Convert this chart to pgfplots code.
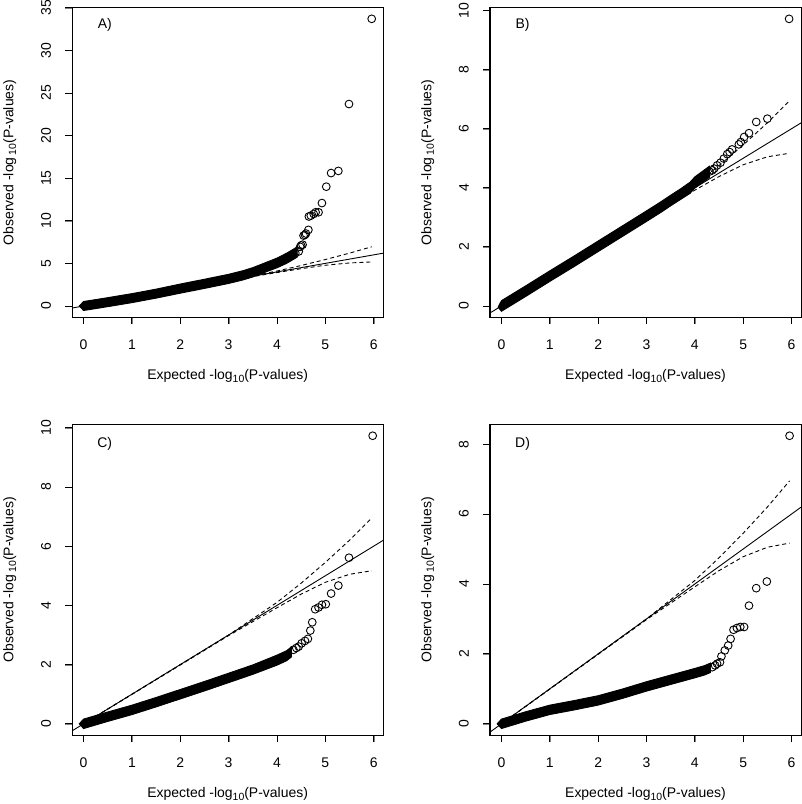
\documentclass[border=0pt]{standalone}
\usepackage{fontspec}
\setmainfont{Liberation Sans}
\usepackage{pgfplots}
\pgfplotsset{compat=1.18}
\newcommand{\lsub}[1]{\raisebox{-0.35ex}{\fontsize{10.5}{11}\selectfont #1}}
\pgfplotsset{
  qq/.style={
    scale only axis, width=312pt, height=311pt,
    xmin=-0.2385, xmax=6.198, xtick={0,...,6},
    major tick length=7pt, tick align=outside,
    xtick pos=bottom, ytick pos=left,
    /pgf/number format/assume math mode=true,
    tick label style={font=\fontsize{14}{16}\selectfont},
    xticklabel style={anchor=north, inner sep=0pt, yshift=-15pt},
    yticklabel style={rotate=90, anchor=south, inner sep=0pt, yshift=14pt},
    label style={font=\fontsize{14}{16}\selectfont},
    xlabel={Expected -log\lsub{10}(P-values)},
    ylabel={Observed -log\,\lsub{10}(P-values)},
    xlabel style={at={(axis description cs:0.5,-0.189)}, anchor=center},
    ylabel style={at={(axis description cs:-0.2,0.5)}, anchor=center},
  },
  qqband/.style={fill=black, draw=black, line width=0.9pt},
  qqpts/.style={only marks, mark=o, mark size=3.9pt, mark options={line width=0.9pt, black}},
  qqdiag/.style={line width=0.9pt, black},
  qqci/.style={line width=0.9pt, black, dash pattern=on 4pt off 3pt},
}
\begin{document}
\begin{tikzpicture}
% ---------------- A ----------------
\begin{axis}[qq, name=A, at={(69pt,486pt)}, anchor=south west,
  ymin=-1.35, ymax=35.05, ytick={0,5,...,35}]
\addplot[qqband] coordinates {(-0.09,0)(0,0.53)(0.25,0.75)(0.5,0.98)(1,1.45)(1.5,1.98)(2,2.58)(2.5,3.14)(3,3.72)(3.3,4.15)(3.5,4.5)(3.75,5.06)(4,5.62)(4.2,6.2)(4.35,6.7)(4.42,6.96)(4.42,5.74)(4.35,5.5)(4.2,5.0)(4,4.48)(3.75,3.95)(3.5,3.4)(3.3,3.06)(3,2.64)(2.5,2.06)(2,1.5)(1.5,0.92)(1,0.39)(0.5,-0.08)(0.25,-0.31)(0,-0.53)} -- cycle;
\addplot[qqpts] coordinates {(4.2,5.6)(4.3,5.9)(4.38,6.2)(4.45,6.4)(4.48,6.94)(4.50,7.1)(4.53,7.2)(4.55,8.26)(4.58,8.35)(4.60,8.5)(4.65,8.93)(4.66,10.5)(4.70,10.6)(4.76,10.8)(4.80,11.0)(4.86,11.0)(4.93,12.08)(5.02,14.0)(5.12,15.6)(5.27,15.85)(5.49,23.7)(5.96,33.7)};
\addplot[qqdiag] coordinates {(-0.2385,-0.2385)(6.198,6.198)};
\addplot[qqci] coordinates {(0,0)(3,3.0)(3.5,3.55)(4,4.1)(4.5,4.75)(5,5.45)(5.5,6.2)(5.96,6.95)};
\addplot[qqci] coordinates {(0,0)(3,2.98)(3.5,3.45)(4,3.92)(4.5,4.38)(5,4.78)(5.5,5.05)(5.96,5.17)};
\node[font=\fontsize{14}{16}\selectfont] at (axis description cs:0.105,0.942) {A)};
\pgfplotsinvokeforeach{0,...,6}{\coordinate (A-x#1) at (axis cs:#1,-1.35);}
\pgfplotsinvokeforeach{0,5,...,35}{\coordinate (A-y#1) at (axis cs:-0.2385,#1);}
\end{axis}
% ---------------- B ----------------
\begin{axis}[qq, name=B, at={(488pt,486pt)}, anchor=south west,
  ymin=-0.39, ymax=10.11, ytick={0,2,...,10}]
\addplot[qqband] coordinates {(-0.07,-0.04)(0,0.18)(0.5,0.68)(1,1.19)(1.5,1.69)(2,2.2)(2.5,2.71)(3,3.22)(3.3,3.53)(3.5,3.75)(3.7,3.96)(3.9,4.19)(4.0,4.37)(4.1,4.49)(4.25,4.67)(4.3,4.73)(4.3,4.35)(4.25,4.29)(4.1,4.11)(4.0,3.99)(3.9,3.81)(3.7,3.6)(3.5,3.39)(3.3,3.17)(3,2.86)(2.5,2.35)(2,1.84)(1.5,1.33)(1,0.83)(0.5,0.32)(0,-0.18)} -- cycle;
\addplot[qqpts] coordinates {(4.3,4.55)(4.36,4.59)(4.40,4.65)(4.46,4.76)(4.53,4.85)(4.60,4.99)(4.67,5.14)(4.72,5.21)(4.77,5.30)(4.91,5.47)(4.95,5.55)(5.02,5.72)(5.12,5.85)(5.27,6.23)(5.50,6.34)(5.95,9.72)};
\addplot[qqdiag] coordinates {(-0.2385,-0.2385)(6.198,6.198)};
\addplot[qqci] coordinates {(0,0)(3,3.0)(3.5,3.55)(4,4.1)(4.5,4.75)(5,5.45)(5.5,6.2)(5.96,6.95)};
\addplot[qqci] coordinates {(0,0)(3,2.98)(3.5,3.45)(4,3.92)(4.5,4.38)(5,4.78)(5.5,5.05)(5.96,5.17)};
\node[font=\fontsize{14}{16}\selectfont] at (axis description cs:0.105,0.942) {B)};
\pgfplotsinvokeforeach{0,...,6}{\coordinate (B-x#1) at (axis cs:#1,-0.39);}
\pgfplotsinvokeforeach{0,2,...,10}{\coordinate (B-y#1) at (axis cs:-0.2385,#1);}
\end{axis}
% ---------------- C ----------------
\begin{axis}[qq, name=C, at={(69pt,67pt)}, anchor=south west, height=312pt,
  ymin=-0.39, ymax=10.12, ytick={0,2,...,10}]
\addplot[qqband] coordinates {(-0.09,0)(0,0.16)(0.5,0.40)(1,0.63)(1.5,0.89)(2,1.16)(2.5,1.43)(3,1.71)(3.5,1.99)(4,2.32)(4.2,2.47)(4.3,2.6)(4.3,2.26)(4.2,2.13)(4,1.98)(3.5,1.67)(3,1.39)(2.5,1.11)(2,0.84)(1.5,0.57)(1,0.31)(0.5,0.08)(0,-0.16)} -- cycle;
\addplot[qqpts] coordinates {(4.34,2.50)(4.40,2.56)(4.45,2.61)(4.51,2.72)(4.58,2.80)(4.64,2.87)(4.69,3.15)(4.73,3.43)(4.79,3.87)(4.86,3.93)(4.93,4.02)(5.01,4.04)(5.12,4.40)(5.27,4.67)(5.49,5.61)(5.98,9.73)};
\addplot[qqdiag] coordinates {(-0.2385,-0.2385)(6.198,6.198)};
\addplot[qqci] coordinates {(0,0)(3,3.0)(3.5,3.55)(4,4.1)(4.5,4.75)(5,5.45)(5.5,6.2)(5.96,6.95)};
\addplot[qqci] coordinates {(0,0)(3,2.98)(3.5,3.45)(4,3.92)(4.5,4.38)(5,4.78)(5.5,5.05)(5.96,5.17)};
\node[font=\fontsize{14}{16}\selectfont] at (axis description cs:0.105,0.938) {C)};
\pgfplotsinvokeforeach{0,...,6}{\coordinate (C-x#1) at (axis cs:#1,-0.39);}
\pgfplotsinvokeforeach{0,2,...,10}{\coordinate (C-y#1) at (axis cs:-0.2385,#1);}
\end{axis}
% ---------------- D ----------------
\begin{axis}[qq, name=D, at={(488pt,67pt)}, anchor=south west, height=312pt,
  ymin=-0.33, ymax=8.57, ytick={0,2,...,8}]
\addplot[qqband] coordinates {(-0.09,0)(0,0.135)(0.5,0.345)(1,0.535)(1.5,0.665)(2,0.805)(2.5,0.995)(3,1.205)(3.5,1.395)(4,1.585)(4.2,1.665)(4.32,1.735)(4.32,1.465)(4.2,1.395)(4,1.315)(3.5,1.125)(3,0.935)(2.5,0.725)(2,0.535)(1.5,0.395)(1,0.265)(0.5,0.075)(0,-0.135)} -- cycle;
\addplot[qqpts] coordinates {(4.36,1.62)(4.42,1.67)(4.46,1.72)(4.52,1.76)(4.55,1.93)(4.62,2.10)(4.69,2.24)(4.74,2.43)(4.80,2.69)(4.87,2.74)(4.94,2.77)(5.02,2.77)(5.12,3.38)(5.27,3.88)(5.49,4.07)(5.96,8.24)};
\addplot[qqdiag] coordinates {(-0.2385,-0.2385)(6.198,6.198)};
\addplot[qqci] coordinates {(0,0)(3,3.0)(3.5,3.55)(4,4.1)(4.5,4.75)(5,5.45)(5.5,6.2)(5.96,6.95)};
\addplot[qqci] coordinates {(0,0)(3,2.98)(3.5,3.45)(4,3.92)(4.5,4.38)(5,4.78)(5.5,5.05)(5.96,5.17)};
\node[font=\fontsize{14}{16}\selectfont] at (axis description cs:0.105,0.938) {D)};
\pgfplotsinvokeforeach{0,...,6}{\coordinate (D-x#1) at (axis cs:#1,-0.33);}
\pgfplotsinvokeforeach{0,2,...,8}{\coordinate (D-y#1) at (axis cs:-0.2385,#1);}
\end{axis}
% frames and tick marks, drawn outside the axes
\foreach \P in {A,B,C,D}{
  \draw[line width=0.9pt, black] (\P.south west) rectangle (\P.north east);
  \foreach \k in {0,...,6}{\draw[line width=0.9pt, black] (\P-x\k) -- ++(0pt,-7pt);}
}
\foreach \k in {0,5,...,35}{\draw[line width=0.9pt, black] (A-y\k) -- ++(-7pt,0pt);}
\foreach \k in {0,2,...,10}{\draw[line width=0.9pt, black] (B-y\k) -- ++(-7pt,0pt);}
\foreach \k in {0,2,...,10}{\draw[line width=0.9pt, black] (C-y\k) -- ++(-7pt,0pt);}
\foreach \k in {0,2,...,8}{\draw[line width=0.9pt, black] (D-y\k) -- ++(-7pt,0pt);}
\path (0,0) rectangle (800pt,804pt);
\end{tikzpicture}
\end{document}
